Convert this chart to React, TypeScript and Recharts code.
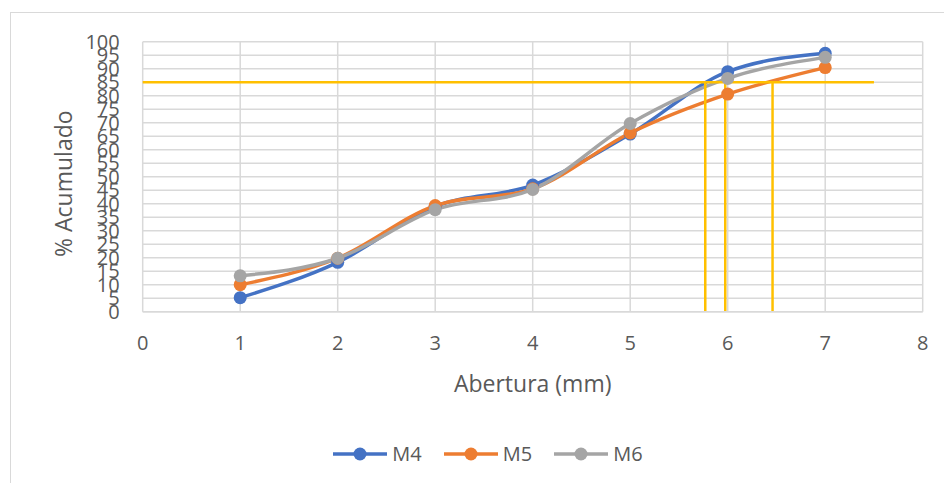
import React from "react"
import {
  LineChart,
  Line,
  XAxis,
  YAxis,
  CartesianGrid,
  ReferenceLine,
  Legend,
} from "recharts"

const aberturas = [1, 2, 3, 4, 5, 6, 7]
const m4 = [5.2, 18.3, 39, 46.9, 65.8, 88.9, 95.7]
const m5 = [10, 19.8, 39.3, 45.5, 66.2, 80.6, 90.4]
const m6 = [13.3, 19.8, 37.8, 45.3, 69.7, 86.4, 94.2]

const xTicks = [0, 1, 2, 3, 4, 5, 6, 7, 8]
const yTicks = [0, 5, 10, 15, 20, 25, 30, 35, 40, 45, 50, 55, 60, 65, 70, 75, 80, 85, 90, 95, 100]

// linea de corte al 85 % y las aberturas donde cada curva la cruza
const cutLevel = 85
const cutStartEnd = [0, 7.5]
const cutXs = [5.77, 5.975, 6.46]

const series = [
  { key: "M4", color: "#4472C4" },
  { key: "M5", color: "#ED7D31" },
  { key: "M6", color: "#A5A5A5" },
]

const data = aberturas.map((x, i) => ({ x, M4: m4[i], M5: m5[i], M6: m6[i] }))

const FONT = "'Open Sans', sans-serif"
const TEXT = "#595959"
const GRID = "#d9d9d9"
const CUT = "#FFC000"

function LegendContent() {
  return (
    <div style={{ display: "flex", justifyContent: "center", alignItems: "center", fontFamily: FONT, fontSize: 20, color: TEXT }}>
      {series.map((s) => (
        <div key={s.key} style={{ display: "flex", alignItems: "center", margin: "0 11px" }}>
          <svg width={54} height={16}>
            <line x1={0} y1={8} x2={54} y2={8} stroke={s.color} strokeWidth={3.5} />
            <circle cx={27} cy={8} r={6.5} fill={s.color} />
          </svg>
          <span style={{ marginLeft: 5 }}>{s.key}</span>
        </div>
      ))}
    </div>
  )
}

export default function App() {
  return (
    <div style={{ position: "absolute", left: 0, top: 0, width: 944, height: 483, overflow: "hidden", background: "#fff" }}>
      <div style={{ position: "absolute", left: 10, top: 12, width: 980, height: 520, border: `1px solid ${GRID}` }} />
      <div style={{ position: "absolute", left: 0, top: 0 }}>
        <LineChart width={944} height={483} data={data} margin={{ top: 41.7, right: 21.3, left: 82.7, bottom: 141.3 }}>
          <CartesianGrid stroke={GRID} strokeWidth={1.5} />
          <XAxis
            dataKey="x"
            type="number"
            domain={[0, 8]}
            ticks={xTicks}
            interval={0}
            height={30}
            tickLine={false}
            tickSize={0}
            tickMargin={24}
            axisLine={{ stroke: GRID, strokeWidth: 1.5 }}
            tick={{ fill: TEXT, fontSize: 20, fontFamily: FONT }}
            label={{
              content: ({ viewBox }: any) => (
                <text x={viewBox.x + viewBox.width / 2} y={viewBox.y + 80} textAnchor="middle" fill={TEXT} fontSize={23} fontFamily={FONT}>
                  Abertura (mm)
                </text>
              ),
            }}
          />
          <YAxis
            type="number"
            domain={[0, 100]}
            ticks={yTicks}
            interval={0}
            width={60}
            tickLine={false}
            tickSize={0}
            tickMargin={23}
            axisLine={false}
            tick={{ fill: TEXT, fontSize: 20, fontFamily: FONT }}
            label={{
              content: ({ viewBox }: any) => {
                const cx = viewBox.x - 11
                const cy = viewBox.y + viewBox.height / 2 + 7
                return (
                  <text x={cx} y={cy} transform={`rotate(-90 ${cx} ${cy})`} textAnchor="middle" fill={TEXT} fontSize={23} fontFamily={FONT}>
                    % Acumulado
                  </text>
                )
              },
            }}
          />
          {series.map((s) => (
            <Line
              key={s.key}
              type="monotone"
              dataKey={s.key}
              stroke={s.color}
              strokeWidth={3.5}
              dot={{ r: 6.5, fill: s.color, stroke: s.color, strokeWidth: 0 }}
              activeDot={false}
              isAnimationActive={false}
            />
          ))}
          <ReferenceLine
            segment={[{ x: cutStartEnd[0], y: cutLevel }, { x: cutStartEnd[1], y: cutLevel }]}
            stroke={CUT}
            strokeWidth={2.5}
          />
          {cutXs.map((cx) => (
            <ReferenceLine key={cx} segment={[{ x: cx, y: 0 }, { x: cx, y: cutLevel }]} stroke={CUT} strokeWidth={2.5} />
          ))}
          <Legend
            layout="horizontal"
            verticalAlign="middle"
            align="center"
            wrapperStyle={{ top: 440, left: 16, width: 944 }}
            content={() => <LegendContent />}
          />
        </LineChart>
      </div>
    </div>
  )
}
